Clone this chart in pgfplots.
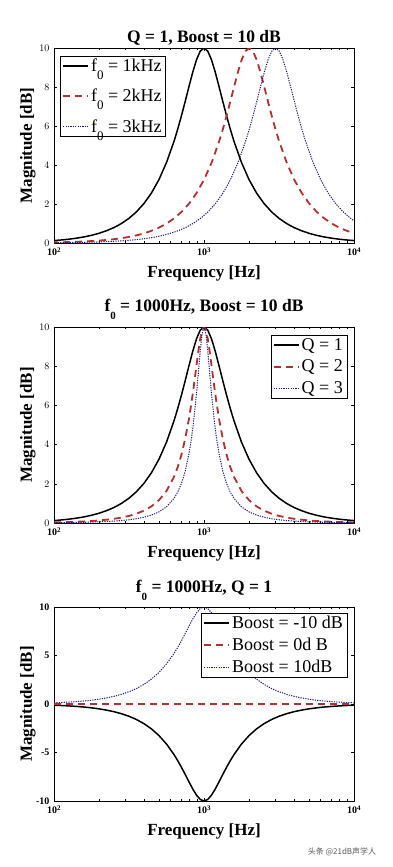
\documentclass[border=0pt]{standalone}
\usepackage{fontspec}
\setmainfont{Liberation Serif}
\newfontfamily\cjk{Noto Sans CJK SC}
\usepackage{pgfplots}
\usepackage{pgfplotstable}
\pgfplotsset{compat=1.18}
\definecolor{cblack}{RGB}{0,0,0}
\definecolor{cred}{RGB}{178,48,48}
\definecolor{cblue}{RGB}{25,25,120}

% Q = 1 peaking response (f0 = 1 kHz, +10 dB)
\pgfplotstableread{
f g
100 0.124
112.2 0.156
125.9 0.197
141.3 0.248
158.5 0.312
177.8 0.394
199.5 0.497
223.9 0.630
251.2 0.792
281.8 1.001
316.2 1.265
354.8 1.601
398.1 2.027
446.7 2.569
501.2 3.257
562.3 4.126
631.0 5.213
668.3 5.845
707.9 6.534
749.9 7.270
794.3 8.027
841.4 8.760
891.3 9.397
944.1 9.840
1000 10
1059.3 9.840
1122.0 9.397
1188.5 8.760
1258.9 8.027
1333.5 7.270
1412.5 6.534
1496.2 5.845
1584.9 5.213
1778.3 4.126
1995.3 3.257
2238.7 2.569
2511.9 2.027
2818.4 1.601
3162.3 1.265
3548.1 1.001
3981.1 0.792
4466.8 0.630
5011.9 0.497
5623.4 0.394
6309.6 0.312
7079.5 0.248
7943.3 0.197
8912.5 0.156
10000 0.124
}\qone

\pgfplotstableread{
f g
100 -0.124
112.2 -0.156
125.9 -0.197
141.3 -0.248
158.5 -0.312
177.8 -0.394
199.5 -0.497
223.9 -0.630
251.2 -0.792
281.8 -1.001
316.2 -1.265
354.8 -1.601
398.1 -2.027
446.7 -2.569
501.2 -3.257
562.3 -4.126
631.0 -5.213
668.3 -5.845
707.9 -6.534
749.9 -7.270
794.3 -8.027
841.4 -8.760
891.3 -9.397
944.1 -9.840
1000 -10
1059.3 -9.840
1122.0 -9.397
1188.5 -8.760
1258.9 -8.027
1333.5 -7.270
1412.5 -6.534
1496.2 -5.845
1584.9 -5.213
1778.3 -4.126
1995.3 -3.257
2238.7 -2.569
2511.9 -2.027
2818.4 -1.601
3162.3 -1.265
3548.1 -1.001
3981.1 -0.792
4466.8 -0.630
5011.9 -0.497
5623.4 -0.394
6309.6 -0.312
7079.5 -0.248
7943.3 -0.197
8912.5 -0.156
10000 -0.124
}\qcut

\pgfplotstableread{
f g
79.6 0.020
100.2 0.031
126.2 0.049
158.9 0.078
200 0.124
224.4 0.156
251.8 0.197
282.5 0.248
317.0 0.312
355.7 0.394
399.1 0.497
447.7 0.630
502.4 0.792
563.7 1.001
632.5 1.265
709.6 1.601
796.2 2.027
893.4 2.569
1002.4 3.257
1124.7 4.126
1261.9 5.213
1336.7 5.845
1415.9 6.534
1499.8 7.270
1588.7 8.027
1682.8 8.760
1782.5 9.397
1888.1 9.840
2000 10
2118.5 9.840
2244.0 9.397
2377.0 8.760
2517.9 8.027
2667.0 7.270
2825.1 6.534
2992.5 5.845
3169.8 5.213
3556.6 4.126
3990.5 3.257
4477.4 2.569
5023.8 2.027
5636.8 1.601
6324.6 1.265
7096.3 1.001
7962.1 0.792
8933.7 0.630
10023.7 0.497
}\qtwok

\pgfplotstableread{
f g
94.9 0.012
119.4 0.020
150.4 0.031
189.3 0.049
238.3 0.078
300 0.124
336.6 0.156
377.7 0.197
423.8 0.248
475.5 0.312
533.5 0.394
598.6 0.497
671.6 0.630
753.6 0.792
845.5 1.001
948.7 1.265
1064.4 1.601
1194.3 2.027
1340.1 2.569
1503.6 3.257
1687.0 4.126
1892.9 5.213
2005.0 5.845
2123.8 6.534
2249.7 7.270
2383.0 8.027
2524.2 8.760
2673.8 9.397
2832.2 9.840
3000 10
3177.8 9.840
3366.1 9.397
3565.5 8.760
3776.8 8.027
4000.6 7.270
4237.6 6.534
4488.7 5.845
4754.7 5.213
5334.8 4.126
5985.8 3.257
6716.2 2.569
7535.7 2.027
8455.1 1.601
9486.8 1.265
10644.4 1.001
}\qthreek

\pgfplotstableread{
f g
100 0.031
112.2 0.040
125.9 0.050
141.3 0.064
158.5 0.081
177.8 0.103
199.5 0.131
223.9 0.169
251.2 0.215
281.8 0.279
316.2 0.362
354.8 0.476
398.1 0.631
446.7 0.850
501.2 1.166
562.3 1.634
631.0 2.354
668.3 2.857
707.9 3.495
749.9 4.306
794.3 5.331
817.5 5.933
841.4 6.595
866.0 7.307
891.3 8.047
917.3 8.768
944.1 9.398
971.6 9.840
1000 10
1029.2 9.840
1059.3 9.398
1090.2 8.768
1122.0 8.047
1154.8 7.307
1188.5 6.595
1223.2 5.933
1258.9 5.331
1333.5 4.306
1412.5 3.495
1496.2 2.857
1584.9 2.354
1778.3 1.634
1995.3 1.166
2238.7 0.850
2511.9 0.631
2818.4 0.476
3162.3 0.362
3548.1 0.279
3981.1 0.215
4466.8 0.169
5011.9 0.131
5623.4 0.103
6309.6 0.081
7079.5 0.064
7943.3 0.050
8912.5 0.040
10000 0.031
}\qtwo

\pgfplotstableread{
f g
100 0.014
112.2 0.018
125.9 0.022
141.3 0.028
158.5 0.036
177.8 0.046
199.5 0.059
223.9 0.076
251.2 0.097
281.8 0.126
316.2 0.166
354.8 0.219
398.1 0.295
446.7 0.404
501.2 0.567
562.3 0.824
631.0 1.254
668.3 1.580
707.9 2.027
749.9 2.652
794.3 3.541
817.5 4.122
841.4 4.817
866.0 5.644
891.3 6.606
917.3 7.681
944.1 8.770
971.6 9.650
1000 10
1029.2 9.650
1059.3 8.770
1090.2 7.681
1122.0 6.606
1154.8 5.644
1188.5 4.817
1223.2 4.122
1258.9 3.541
1333.5 2.652
1412.5 2.027
1496.2 1.580
1584.9 1.254
1778.3 0.824
1995.3 0.567
2238.7 0.404
2511.9 0.295
2818.4 0.219
3162.3 0.166
3548.1 0.126
3981.1 0.097
4466.8 0.076
5011.9 0.059
5623.4 0.046
6309.6 0.036
7079.5 0.028
7943.3 0.022
8912.5 0.018
10000 0.014
}\qthree

\pgfplotsset{
  peq/.style={
    scale only axis, width=300pt,
    xmin=100, xmax=10000,
    xtick={100,1000,10000},
    xticklabels={10\textsuperscript{2},10\textsuperscript{3},10\textsuperscript{4}},
    tick align=inside,
    major tick length=3pt, minor tick length=1.8pt,
    tick style={black, line width=0.5pt},
    axis line style={black, line width=0.6pt},
    tick label style={font=\bfseries\fontsize{10}{10}\selectfont},
    xticklabel style={yshift=-1pt},
    yticklabel style={xshift=-1pt},
    xlabel={Frequency [Hz]}, ylabel={Magnitude [dB]},
    xlabel style={font=\bfseries\fontsize{17}{17}\selectfont, at={(axis description cs:0.5,0)}, yshift=-30pt, anchor=center},
    ylabel style={font=\bfseries\fontsize{17}{17}\selectfont, at={(axis description cs:-0.087,0.5)}, anchor=center},
    title style={font=\bfseries\fontsize{17.5}{17.5}\selectfont},
    legend style={font=\fontsize{18}{20}\selectfont, draw=black, line width=0.6pt, fill=white,
      inner xsep=2pt, inner ysep=1pt,
      /tikz/every even column/.append style={column sep=1pt}},
    legend cell align=left,
    legend image code/.code={\draw[##1] (0pt,0pt) -- (25pt,0pt);},
  },
  sblack/.style={cblack, line width=1.5pt},
  sred/.style={cred, line width=1.8pt, dash pattern=on 7pt off 5pt},
  sblue/.style={cblue, line width=1pt, dash pattern=on 1.2pt off 1.2pt},
}
\newcommand{\sub}[1]{\raisebox{-8pt}{\fontsize{13}{13}\selectfont #1}}
\newcommand{\tsub}[1]{\raisebox{-7.5pt}{\fontsize{11}{11}\selectfont\bfseries #1}}

\begin{document}
\begin{tikzpicture}[x=1pt,y=1pt]
\path[use as bounding box] (0,0) rectangle (393,-867);

% ---- Plot 1
\begin{semilogxaxis}[peq, at={(54pt,-243pt)}, anchor=south west, height=195pt,
  ymin=0, ymax=10, ytick={0,2,4,6,8,10},
  title={Q = 1, Boost = 10 dB}, title style={yshift=-7pt},
  legend style={at={(0.02,0.96)}, anchor=north west, row sep=12pt}]
\addplot[sblack] table[x=f,y=g] {\qone};
\addlegendentry{f\sub{0} = 1kHz}
\addplot[sred] table[x=f,y=g] {\qtwok};
\addlegendentry{f\sub{0} = 2kHz}
\addplot[sblue] table[x=f,y=g] {\qthreek};
\addlegendentry{f\sub{0} = 3kHz}
\end{semilogxaxis}

% ---- Plot 2
\begin{semilogxaxis}[peq, at={(54pt,-523pt)}, anchor=south west, height=196pt,
  ymin=0, ymax=10, ytick={0,2,4,6,8,10},
  title={f\tsub{0} = 1000Hz, Boost = 10 dB}, title style={yshift=-2pt},
  legend style={at={(0.977,0.96)}, anchor=north east, row sep=4.5pt}]
\addplot[sblack] table[x=f,y=g] {\qone};
\addlegendentry{Q = 1}
\addplot[sred] table[x=f,y=g] {\qtwo};
\addlegendentry{Q = 2}
\addplot[sblue] table[x=f,y=g] {\qthree};
\addlegendentry{Q = 3}
\end{semilogxaxis}

% ---- Plot 3
\begin{semilogxaxis}[peq, at={(54pt,-801pt)}, anchor=south west, height=194pt,
  ymin=-10, ymax=10, ytick={-10,-5,0,5,10}, yticklabels={-10,-5,0,5,10},
  title={f\tsub{0} = 1000Hz, Q = 1}, title style={yshift=-3pt},
  legend style={at={(0.977,0.97)}, anchor=north east, row sep=4pt}]
\addplot[sblack] table[x=f,y=g] {\qcut};
\addlegendentry{Boost = -10 dB}
\addplot[sred] coordinates {(100,0) (10000,0)};
\addlegendentry{Boost = 0d B}
\addplot[sblue] table[x=f,y=g] {\qone};
\addlegendentry{Boost = 10dB}
\end{semilogxaxis}

\node[font=\cjk\fontsize{8}{8}\selectfont, text=black!65] at (342pt,-852pt) {头条 @21dB声学人};
\end{tikzpicture}
\end{document}
